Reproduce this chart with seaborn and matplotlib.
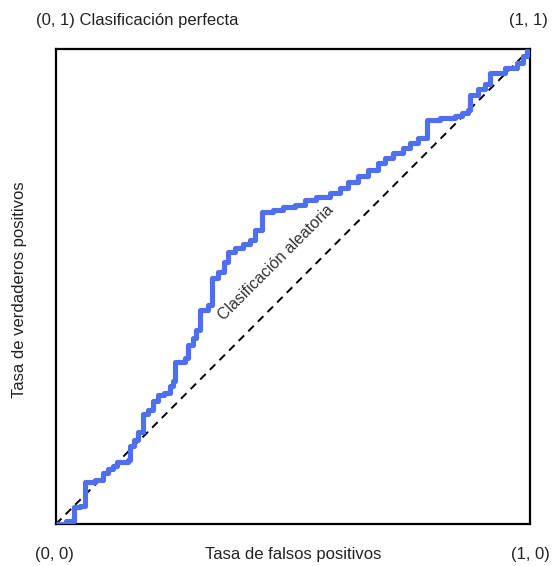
import matplotlib
matplotlib.use("Agg")
import matplotlib.pyplot as plt
import seaborn as sns
import pandas as pd

fpr = [0.0, 0.021, 0.038, 0.051, 0.061, 0.082, 0.099, 0.110, 0.120, 0.129,
       0.152, 0.156, 0.165, 0.173, 0.184, 0.194, 0.205, 0.215, 0.228, 0.241,
       0.247, 0.251, 0.272, 0.278, 0.289, 0.295, 0.304, 0.321, 0.329, 0.342,
       0.354, 0.363, 0.378, 0.395, 0.409, 0.420, 0.435, 0.458, 0.479, 0.504,
       0.525, 0.549, 0.578, 0.599, 0.616, 0.637, 0.658, 0.679, 0.694, 0.711,
       0.732, 0.747, 0.764, 0.783, 0.810, 0.842, 0.857, 0.869, 0.873, 0.890,
       0.905, 0.916, 0.947, 0.973, 0.985, 0.994, 1.0]
tpr = [0.0, 0.006, 0.036, 0.038, 0.088, 0.093, 0.107, 0.116, 0.122, 0.131,
       0.135, 0.164, 0.177, 0.194, 0.232, 0.240, 0.259, 0.272, 0.276, 0.291,
       0.301, 0.341, 0.349, 0.377, 0.392, 0.408, 0.451, 0.461, 0.518, 0.531,
       0.552, 0.573, 0.581, 0.589, 0.598, 0.619, 0.657, 0.661, 0.667, 0.672,
       0.682, 0.688, 0.697, 0.707, 0.720, 0.733, 0.745, 0.760, 0.771, 0.781,
       0.792, 0.802, 0.813, 0.851, 0.855, 0.859, 0.865, 0.872, 0.903, 0.916,
       0.926, 0.949, 0.960, 0.971, 0.985, 0.998, 1.0]

diag = [0.0, 1.0]

sns.set_theme(style="white")
plt.rcParams['font.family'] = ['Liberation Sans', 'DejaVu Sans']

fig = plt.figure(figsize=(5.55, 5.66), dpi=100)
ax = fig.add_axes([56/555, 42/566, 474/555, 475/566])

df = pd.DataFrame({"fpr": fpr, "tpr": tpr})
sns.lineplot(data=pd.DataFrame({"x": diag, "y": diag}), x="x", y="y", ax=ax,
             color="black", linestyle=(0, (4, 3)), linewidth=1.4, zorder=2)
sns.lineplot(data=df, x="fpr", y="tpr", ax=ax, sort=False, estimator=None,
             drawstyle="steps-post", color="#4E6FEE", linewidth=3.7, zorder=3,
             solid_joinstyle="round", solid_capstyle="butt")

ax.set_xlim(0, 1)
ax.set_ylim(0, 1)
ax.set_xticks([])
ax.set_yticks([])
ax.set_xlabel("")
ax.set_ylabel("")
for s in ax.spines.values():
    s.set_color("black")
    s.set_linewidth(1.6)

ax.text(0.465, 0.55, "Clasificación aleatoria", rotation=45, rotation_mode="anchor",
        ha="center", va="center", fontsize=11.5, color="#333333")

fc = "#222222"
fs = 12
fig.text(36/555, 1 - 20/566, "(0, 1) Clasificación perfecta", ha="left", va="center", fontsize=fs, color=fc)
fig.text(548/555, 1 - 20/566, "(1, 1)", ha="right", va="center", fontsize=fs, color=fc)
fig.text(35/555, 1 - 555/566, "(0, 0)", ha="left", va="center", fontsize=fs, color=fc)
fig.text(550/555, 1 - 555/566, "(1, 0)", ha="right", va="center", fontsize=fs, color=fc)
fig.text(293/555, 1 - 555/566, "Tasa de falsos positivos", ha="center", va="center", fontsize=fs, color=fc)
fig.text(20/555, 1 - 290/566, "Tasa de verdaderos positivos", ha="center", va="center",
         rotation=90, fontsize=fs, color=fc)

fig.savefig("out.png", dpi=100)
